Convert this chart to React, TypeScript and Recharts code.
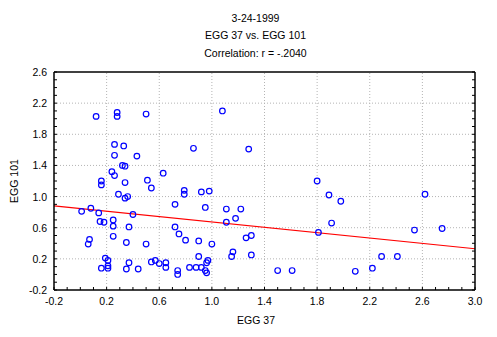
import { ScatterChart, Scatter, XAxis, YAxis, ReferenceLine } from 'recharts'

const egg37 = [
  0.12, 0.28, 0.28, 0.5, 0.26, 0.33, 0.26, 0.43, 0.86, 0.32,
  0.34, 0.24, 0.26, 0.16, 0.16, 0.34, 0.51, 0.54, 0.63, 0.79,
  0.79, 0.29, 0.36, 0.34, 0.92, 0.98, 0.01, 0.08, 0.14, 0.15,
  0.18, 0.25, 0.25, 0.37, 0.4, 0.72, 0.72, 0.75, 0.8, 0.9,
  0.25, 0.07, 0.06, 0.35, 0.5, 0.19, 0.21, 0.16, 0.21, 0.21,
  0.37, 0.35, 0.44, 0.54, 0.57, 0.6, 0.65, 0.65, 0.74, 0.74,
  0.83, 0.88, 0.9, 0.95, 1.11, 1.22, 1.18, 1.11, 1.0, 1.3,
  1.26, 1.16, 1.15, 1.3, 0.97, 0.96, 0.92, 0.95, 0.96, 1.5,
  1.61, 1.08, 1.28, 1.8, 1.89, 1.98, 2.62, 1.91, 1.81, 2.54,
  2.75, 2.29, 2.41, 2.09, 2.22,
]

const egg101 = [
  2.03, 2.08, 2.03, 2.06, 1.67, 1.65, 1.53, 1.52, 1.62, 1.4,
  1.39, 1.32, 1.27, 1.2, 1.15, 1.18, 1.21, 1.11, 1.3, 1.08,
  1.03, 1.03, 1.0, 0.98, 1.06, 1.07, 0.81, 0.85, 0.79, 0.68,
  0.67, 0.7, 0.62, 0.61, 0.77, 0.9, 0.61, 0.52, 0.44, 0.43,
  0.49, 0.45, 0.39, 0.41, 0.39, 0.21, 0.18, 0.08, 0.11, 0.08,
  0.15, 0.07, 0.07, 0.16, 0.18, 0.14, 0.15, 0.09, 0.05, 0.0,
  0.09, 0.09, 0.23, 0.86, 0.84, 0.84, 0.72, 0.67, 0.39, 0.5,
  0.47, 0.29, 0.23, 0.25, 0.18, 0.15, 0.09, 0.05, 0.02, 0.05,
  0.05, 2.1, 1.61, 1.2, 1.02, 0.94, 1.03, 0.66, 0.54, 0.57,
  0.59, 0.23, 0.23, 0.04, 0.08,
]

// regression line end points
const fitX = [-0.2, 3.0]
const fitY = [0.88, 0.33]

const xMajor = [-0.2, 0.2, 0.6, 1.0, 1.4, 1.8, 2.2, 2.6, 3.0]
const yMajor = [-0.2, 0.2, 0.6, 1.0, 1.4, 1.8, 2.2, 2.6]

const titleLines = ['3-24-1999', 'EGG 37 vs. EGG 101', 'Correlation: r = -.2040']

const points = egg37.map((x, i) => ({ x, y: egg101[i] }))

// minor ticks every 0.1 between the first and last major tick
const steps = (lo: number, hi: number) =>
  Array.from({ length: Math.round((hi - lo) * 10) + 1 }, (_, i) => Math.round((lo + i * 0.1) * 10) / 10)
const xTicks = steps(xMajor[0], xMajor[xMajor.length - 1])
const yTicks = steps(yMajor[0], yMajor[yMajor.length - 1])

const isMajor = (list: number[], v: number) => list.some((m) => Math.abs(m - v) < 1e-6)

const font = '"Liberation Sans", Arial, sans-serif'
const TICK = 3

function BottomTick({ x, y, payload }: any) {
  const v = payload.value
  return (
    <g>
      <line x1={x} x2={x} y1={y} y2={y - TICK} stroke="#000" />
      {isMajor(xMajor, v) && (
        <text x={x} y={y + 15} textAnchor="middle" fontSize={10.5} fontFamily={font} fill="#000">
          {v.toFixed(1)}
        </text>
      )}
    </g>
  )
}

function TopTick({ x, y }: any) {
  return <line x1={x} x2={x} y1={y} y2={y + TICK} stroke="#000" />
}

function LeftTick({ x, y, payload }: any) {
  const v = payload.value
  return (
    <g>
      <line x1={x} x2={x + TICK} y1={y} y2={y} stroke="#000" />
      {isMajor(yMajor, v) && (
        <text x={x - 7} y={y + 4} textAnchor="end" fontSize={10.5} fontFamily={font} fill="#000">
          {v.toFixed(1)}
        </text>
      )}
    </g>
  )
}

function RightTick({ x, y }: any) {
  return <line x1={x} x2={x - TICK} y1={y} y2={y} stroke="#000" />
}

function Ring({ cx, cy }: any) {
  return <circle cx={cx} cy={cy} r={2.8} fill="none" stroke="#0000FF" strokeWidth={1.2} />
}

export default function App() {
  const W = 481
  const H = 321
  const grid = { stroke: '#B4B4B4', strokeDasharray: '1 2', strokeWidth: 1 }
  const axisLine = { stroke: '#000', strokeWidth: 1.5 }

  return (
    <div style={{ position: 'relative', width: W, height: H, background: '#fff', fontFamily: font }}>
      {titleLines.map((t, i) => (
        <div
          key={t}
          style={{
            position: 'absolute',
            left: 0,
            width: 495,
            top: [4, 21, 39][i],
            lineHeight: '12px',
            fontSize: 10.5,
            textAlign: 'center',
            color: '#000',
          }}
        >
          {t}
        </div>
      ))}
      <ScatterChart width={W} height={H} margin={{ top: 63, right: 13, bottom: 9, left: 6 }}>
        <XAxis
          xAxisId={0}
          dataKey="x"
          type="number"
          domain={[xMajor[0], xMajor[xMajor.length - 1]]}
          ticks={xTicks}
          interval={0}
          tickSize={0}
          tickMargin={0}
          tickLine={false}
          tick={<BottomTick />}
          axisLine={axisLine}
          height={30}
          allowDataOverflow
        />
        <XAxis
          xAxisId="top"
          orientation="top"
          type="number"
          domain={[xMajor[0], xMajor[xMajor.length - 1]]}
          ticks={xTicks}
          interval={0}
          tickSize={0}
          tickMargin={0}
          tickLine={false}
          tick={<TopTick />}
          axisLine={axisLine}
          height={1}
          allowDataOverflow
        />
        <YAxis
          yAxisId={0}
          dataKey="y"
          type="number"
          domain={[yMajor[0], yMajor[yMajor.length - 1]]}
          ticks={yTicks}
          interval={0}
          tickSize={0}
          tickMargin={0}
          tickLine={false}
          tick={<LeftTick />}
          axisLine={axisLine}
          width={40}
          allowDataOverflow
        />
        <YAxis
          yAxisId="right"
          orientation="right"
          type="number"
          domain={[yMajor[0], yMajor[yMajor.length - 1]]}
          ticks={yTicks}
          interval={0}
          tickSize={0}
          tickMargin={0}
          tickLine={false}
          tick={<RightTick />}
          axisLine={axisLine}
          width={1}
          allowDataOverflow
        />
        {xMajor.slice(1, -1).map((v) => (
          <ReferenceLine key={'gx' + v} x={v} {...grid} />
        ))}
        {yMajor.slice(1, -1).map((v) => (
          <ReferenceLine key={'gy' + v} y={v} {...grid} />
        ))}
        <Scatter data={points} shape={<Ring />} isAnimationActive={false} />
        <ReferenceLine
          segment={[
            { x: fitX[0], y: fitY[0] },
            { x: fitX[1], y: fitY[1] },
          ]}
          stroke="#FF0000"
          strokeWidth={1.2}
        />
      </ScatterChart>
      <div
        style={{
          position: 'absolute',
          left: 0,
          width: 496,
          top: 306,
          lineHeight: '12px',
          fontSize: 10.5,
          textAlign: 'center',
          color: '#000',
        }}
      >
        EGG 37
      </div>
      <div
        style={{
          position: 'absolute',
          left: 6,
          top: 173,
          width: 0,
          height: 0,
        }}
      >
        <div
          style={{
            position: 'absolute',
            left: -40,
            top: -6,
            width: 80,
            lineHeight: '12px',
            fontSize: 10.5,
            textAlign: 'center',
            transform: 'rotate(-90deg)',
            color: '#000',
            whiteSpace: 'nowrap',
          }}
        >
          EGG 101
        </div>
      </div>
    </div>
  )
}
